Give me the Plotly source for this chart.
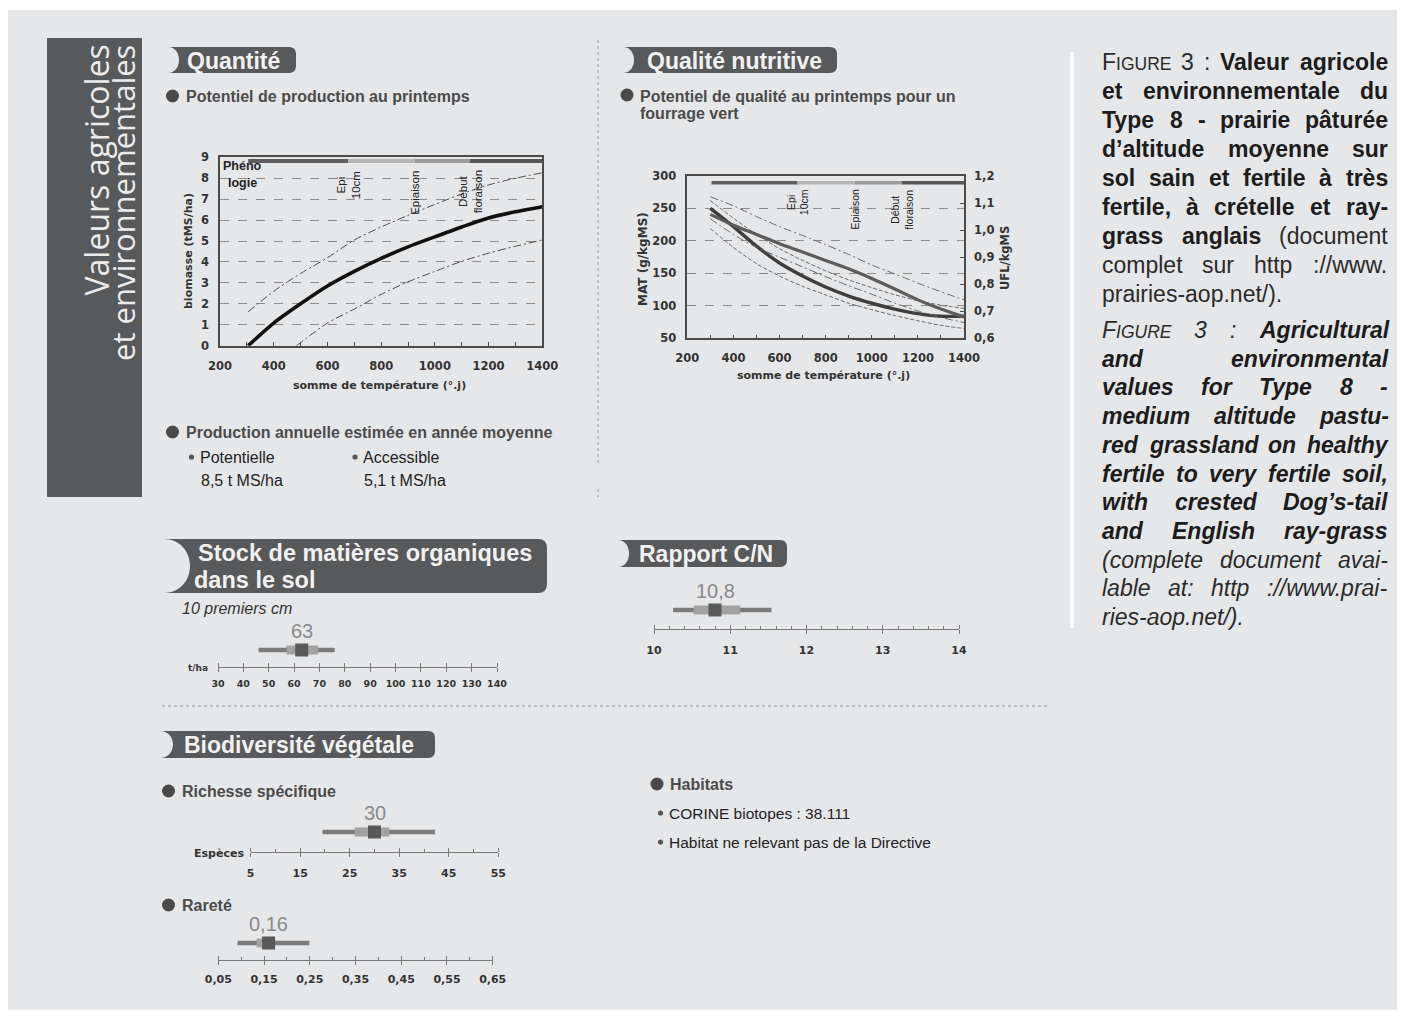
import plotly.graph_objects as go

# page body has an 8px margin: figure drawn at (8, 8) in a 1405x1016 window
OFF = 8
FW, FH = 1405 - OFF, 1016 - OFF
def fx(x): return (x - OFF) / FW
def fy(y): return 1 - (y - OFF) / FH

# ---------------- data ----------------
# Quantite : potentiel de production au printemps
temp_mean = [305, 400, 500, 600, 700, 800, 900, 1000, 1100, 1200, 1300, 1400]
biomass_mean = [0.0, 1.08, 2.0, 2.85, 3.55, 4.17, 4.72, 5.2, 5.67, 6.1, 6.4, 6.64]
temp_high = [305, 400, 500, 600, 700, 800, 900, 1000, 1100, 1200, 1300, 1400]
biomass_high = [1.62, 2.6, 3.45, 4.2, 5.05, 5.67, 6.23, 6.75, 7.25, 7.68, 8.0, 8.26]
temp_low = [485, 600, 700, 800, 900, 1000, 1100, 1200, 1300, 1400]
biomass_low = [0.0, 1.08, 1.75, 2.45, 3.05, 3.55, 4.03, 4.42, 4.75, 5.05]

# Qualite nutritive
temp_quality = [300, 400, 500, 600, 700, 800, 900, 1000, 1100, 1200, 1300, 1400]
mat_mean = [250, 222, 192, 166, 146, 129, 115, 104, 95, 88, 84, 84]
mat_high = [262, 235, 210, 188, 170, 154, 140, 128, 117, 108, 101, 96]
mat_low = [219, 190, 165, 146, 130, 117, 104, 94, 85, 77, 70, 65]
ufl_mean = [1.058, 1.018, 0.984, 0.950, 0.919, 0.888, 0.857, 0.821, 0.782, 0.742, 0.708, 0.679]
ufl_high = [1.123, 1.090, 1.050, 1.013, 0.980, 0.946, 0.910, 0.871, 0.838, 0.804, 0.772, 0.742]
ufl_low = [1.042, 0.984, 0.936, 0.900, 0.864, 0.828, 0.794, 0.763, 0.730, 0.701, 0.677, 0.658]

# Phenology stages (somme de temperature)
pheno_bounds = [305, 678, 926, 1131, 1400]
pheno_stage_x = [678, 926, 1131]
pheno_stage_labels = ["Epi<br>10cm", "Epiaison", "Début<br>floraison"]

# Indicators: [min, q1, value, q3, max]
stock_stats = [46, 57, 63, 69.5, 76]
cn_stats = [10.25, 10.52, 10.8, 11.13, 11.54]
richesse_stats = [19.5, 26, 30, 33, 42.2]
rarete_stats = [0.092, 0.134, 0.16, 0.174, 0.249]
stock_text, cn_text, richesse_text, rarete_text = "63", "10,8", "30", "0,16"

prod_potentielle = "8,5 t MS/ha"
prod_accessible = "5,1 t MS/ha"

# ---------------- styles ----------------
BG = "#e6e7e9"
DARK = "#58595b"
TICKFONT = dict(family="DejaVu Sans", size=11.5, color="#333333", weight="bold")
SANS = "Liberation Sans"
pheno_colors = ["#5e5e5e", "#b5b5b5", "#9b9b9b", "#565656"]

fig = go.Figure()
shapes = []
ann = []

def text(x, y, s, size=15, color="#333", bold=False, italic=False, xanchor="left",
         yanchor="middle", family=SANS, angle=0, align="left", xref="paper", yref="paper"):
    ann.append(dict(x=fx(x) if xref == "paper" else x, y=fy(y) if yref == "paper" else y,
                    xref=xref, yref=yref, text=s, showarrow=False,
                    xanchor=xanchor, yanchor=yanchor, textangle=angle, align=align,
                    font=dict(size=size, color=color, family=family,
                              weight="bold" if bold else "normal",
                              style="italic" if italic else "normal")))

def rect(x0, y0, x1, y1, color, layer="below"):
    shapes.append(dict(type="rect", xref="paper", yref="paper", x0=fx(x0), x1=fx(x1),
                       y0=fy(y1), y1=fy(y0), fillcolor=color, line=dict(width=0), layer=layer))

def circle(cx, cy, r, color="#4a4a4a"):
    shapes.append(dict(type="circle", xref="paper", yref="paper", x0=fx(cx - r), x1=fx(cx + r),
                       y0=fy(cy + r), y1=fy(cy - r), fillcolor=color, line=dict(width=0)))

def hline_dotted(x0, x1, y, color="#9a9a9a"):
    shapes.append(dict(type="line", xref="paper", yref="paper", x0=fx(x0), x1=fx(x1),
                       y0=fy(y), y1=fy(y), line=dict(color=color, width=1, dash="dot")))

def vline_dotted(x, y0, y1, color="#9a9a9a"):
    shapes.append(dict(type="line", xref="paper", yref="paper", x0=fx(x), x1=fx(x),
                       y0=fy(y0), y1=fy(y1), line=dict(color=color, width=1, dash="dot")))

def tab(x0, y0, x1, y1, bulge, r=7):
    k = bulge / 0.75
    P = lambda x, y: f"{fx(x):.6f},{fy(y):.6f}"
    path = (f"M {P(x0, y0)} L {P(x1 - r, y0)} Q {P(x1, y0)} {P(x1, y0 + r)} "
            f"L {P(x1, y1 - r)} Q {P(x1, y1)} {P(x1 - r, y1)} L {P(x0, y1)} "
            f"C {P(x0 + k, y1)} {P(x0 + k, y0)} {P(x0, y0)} Z")
    shapes.append(dict(type="path", xref="paper", yref="paper", path=path,
                       fillcolor=DARK, line=dict(width=0), layer="below"))

# ---------------- background ----------------
rect(8, 10, 1398, 1010, BG)
rect(47, 38, 142, 497, DARK)
text(96, 43, "Valeurs agricoles", size=32, color="#ececec", family="Open Sans",
     xanchor="center", yanchor="top", angle=-90)
text(123, 43, "et environnementales", size=31, color="#ececec", family="Open Sans",
     xanchor="center", yanchor="top", angle=-90)
rect(1070, 52, 1074, 628, "#ffffff")

vline_dotted(598, 40, 466)
vline_dotted(598, 489, 497)
hline_dotted(162, 1047, 706)

# ---------------- tabs ----------------
TABFONT = dict(size=23, color="#f2f2f2", bold=True)
tab(168, 47, 296, 73, 11)
text(185, 61, "Quantité", **TABFONT)
tab(623, 47, 837, 73, 11)
text(645, 61, "Qualité nutritive", **TABFONT)
tab(163, 539, 547, 593, 27, r=9)
text(196, 553, "Stock de matières organiques", size=23.5, color="#f2f2f2", bold=True)
text(192, 580, "dans le sol", size=23.5, color="#f2f2f2", bold=True)
tab(618, 540, 787, 567, 11)
text(637, 554, "Rapport C/N", **TABFONT)
tab(160, 731, 435, 758, 13)
text(182, 745, "Biodiversité végétale", **TABFONT)

# ---------------- sub headings ----------------
SUB = dict(size=16, color="#4b4b4b", bold=True)
circle(172.5, 96, 6.5)
text(184, 96, "Potentiel de production au printemps", **SUB)
circle(627, 95, 6.5)
text(638, 96, "Potentiel de qualité au printemps pour un", **SUB)
text(638, 114, "fourrage vert", **SUB)
circle(172.5, 432, 6.5)
text(184, 432, "Production annuelle estimée en année moyenne", **SUB)
circle(191.5, 457, 2.6, "#555")
text(198, 457, "Potentielle", size=16, color="#222")
text(199, 480, prod_potentielle, size=16, color="#222")
circle(355, 457, 2.6, "#555")
text(361, 457, "Accessible", size=16, color="#222")
text(362, 480, prod_accessible, size=16, color="#222")

text(180, 608, "10 premiers cm", size=16, color="#333", italic=True)

circle(168.5, 791, 6.5)
text(180, 791, "Richesse spécifique", **SUB)
circle(168.5, 905, 6.5)
text(180, 905, "Rareté", **SUB)
circle(657, 784, 6.5)
text(668, 784, "Habitats", **SUB)
circle(660.5, 813, 2.6, "#555")
text(667, 813, "CORINE biotopes : 38.111", size=15.5, color="#222")
circle(660.5, 842, 2.6, "#555")
text(667, 842, "Habitat ne relevant pas de la Directive", size=15.5, color="#222")

# ---------------- chart 1 : Quantité ----------------
def line(x, y, xa, ya, color, width, dash="solid"):
    fig.add_trace(go.Scatter(x=x, y=y, xaxis=xa, yaxis=ya, mode="lines", hoverinfo="skip",
                             line=dict(color=color, width=width, dash=dash, shape="spline",
                                       smoothing=0.8)))

for i in range(len(pheno_bounds) - 1):
    fig.add_trace(go.Scatter(x=pheno_bounds[i:i + 2], y=[8.82, 8.82], xaxis="x", yaxis="y",
                             mode="lines", hoverinfo="skip",
                             line=dict(color=pheno_colors[i], width=4)))
line(temp_high, biomass_high, "x", "y", "#4d4d4d", 1, "8px,3px,2px,3px")
line(temp_low, biomass_low, "x", "y", "#4d4d4d", 1, "8px,3px,2px,3px")
line(temp_mean, biomass_mean, "x", "y", "#111111", 3.6)

for xs, lab in zip(pheno_stage_x, pheno_stage_labels):
    text(xs, 8.45, lab, size=11.5, color="#222", xanchor="center", yanchor="top",
         angle=-90, align="center", xref="x", yref="y")
text(221, 166, "Phéno", size=12.5, color="#222", bold=True)
text(226, 183, "logie", size=12.5, color="#222", bold=True)

AX = dict(showline=True, linecolor="#4a4a4a", linewidth=1.5, mirror=True, zeroline=False,
          tickfont=TICKFONT, showgrid=False, fixedrange=True, automargin=False)
layout_axes = {}
layout_axes["xaxis"] = dict(AX, domain=[fx(220), fx(542.3)], range=[200, 1400], anchor="y",
                            tick0=200, dtick=200, ticks="inside", ticklen=4, tickcolor="#4a4a4a",
                            minor=dict(dtick=100, ticks="inside", ticklen=4, tickcolor="#4a4a4a"),
                            ticklabelstandoff=9)
layout_axes["yaxis"] = dict(AX, domain=[fy(345.7), fy(157.3)], range=[0, 9], anchor="x",
                            dtick=1, showgrid=True, gridcolor="#8c8c8c", gridwidth=0.8,
                            griddash="dash", ticks="", ticklabelstandoff=7)
text(379, 385, "somme de température (°.j)", size=11, color="#333", bold=True,
     family="DejaVu Sans", xanchor="center")
text(188, 251, "biomasse (tMS/ha)", size=11, color="#333", bold=True,
     family="DejaVu Sans", xanchor="center", angle=-90)

# ---------------- chart 2 : Qualité ----------------
for i in range(len(pheno_bounds) - 1):
    fig.add_trace(go.Scatter(x=pheno_bounds[i:i + 2], y=[289.5, 289.5], xaxis="x2", yaxis="y2",
                             mode="lines", hoverinfo="skip",
                             line=dict(color=pheno_colors[i], width=3.5)))
line(temp_quality, mat_high, "x2", "y2", "#6a6a6a", 1, "4px,2px")
line(temp_quality, mat_low, "x2", "y2", "#6a6a6a", 1, "4px,2px")
line(temp_quality, ufl_high, "x2", "y3", "#6a6a6a", 1, "8px,3px,2px,3px")
line(temp_quality, ufl_low, "x2", "y3", "#6a6a6a", 1, "8px,3px,2px,3px")
line(temp_quality, ufl_mean, "x2", "y3", "#5c5c5c", 3.2)
line(temp_quality, mat_mean, "x2", "y2", "#3e3e3e", 3.4)

for xs, lab in zip(pheno_stage_x, pheno_stage_labels):
    text(xs, 282, lab, size=10.5, color="#222", xanchor="center", yanchor="top",
         angle=-90, align="center", xref="x2", yref="y2")

layout_axes["xaxis2"] = dict(AX, domain=[fx(687.3), fx(964)], range=[200, 1400], anchor="y2",
                             tick0=200, dtick=200, ticks="inside", ticklen=4, tickcolor="#4a4a4a",
                             minor=dict(dtick=100, ticks="inside", ticklen=4, tickcolor="#4a4a4a"),
                             ticklabelstandoff=8)
layout_axes["yaxis2"] = dict(AX, domain=[fy(338.3), fy(176)], range=[50, 300], anchor="x2",
                             dtick=50, showgrid=True, gridcolor="#8c8c8c", gridwidth=0.8,
                             griddash="dash", ticks="", ticklabelstandoff=7, mirror=False)
layout_axes["yaxis3"] = dict(AX, range=[0.6, 1.2], overlaying="y2", side="right", anchor="x2",
                             dtick=0.1, tickformat=".1f", ticks="inside", ticklen=4,
                             tickcolor="#4a4a4a", ticklabelstandoff=6, mirror=False)
text(824, 375, "somme de température (°.j)", size=11, color="#333", bold=True,
     family="DejaVu Sans", xanchor="center")
text(643, 259, "MAT (g/kgMS)", size=12, color="#333", bold=True,
     family="DejaVu Sans", xanchor="center", angle=-90)
text(1005, 258, "UFL/kgMS", size=11.5, color="#333", bold=True,
     family="DejaVu Sans", xanchor="center", angle=-90)

# ---------------- indicator strips ----------------
def strip(n, stats, label, x0, x1, axis_px, glyph_px, rng, tick0, dtick, minor_dtick,
          fsize, standoff, fmt=None):
    xa, xt, ya = f"x{n}", f"x{n + 1}", f"y{n}"
    top = 2 * glyph_px - axis_px
    fig.add_trace(go.Scatter(x=[stats[0], stats[4]], y=[0.5, 0.5], xaxis=xa, yaxis=ya,
                             mode="lines", hoverinfo="skip",
                             line=dict(color="#7b7b7b", width=4.5)))
    fig.add_trace(go.Scatter(x=[stats[1], stats[3]], y=[0.5, 0.5], xaxis=xa, yaxis=ya,
                             mode="lines", hoverinfo="skip",
                             line=dict(color="#a2a2a2", width=9)))
    fig.add_trace(go.Scatter(x=[stats[2]], y=[0.5], xaxis=xt, yaxis=ya, mode="markers",
                             hoverinfo="skip",
                             marker=dict(symbol="square", size=13, color=DARK,
                                         line=dict(width=0))))
    base = dict(range=rng, showgrid=False, zeroline=False, showline=True, linecolor="#7a7a7a",
                linewidth=1, tick0=tick0, dtick=dtick, ticks="outside", tickcolor="#7a7a7a",
                fixedrange=True, automargin=False)
    layout_axes[f"xaxis{n}"] = dict(base, domain=[fx(x0), fx(x1)], anchor=ya, ticklen=4,
                                    tickfont=dict(family="DejaVu Sans", size=fsize,
                                                  color="#333", weight="bold"),
                                    ticklabelstandoff=standoff,
                                    **({"tickformat": fmt} if fmt else {}))
    top_ax = dict(base, overlaying=xa, side="top", anchor="free", position=fy(axis_px),
                  ticklen=4, showticklabels=False)
    if minor_dtick:
        top_ax["minor"] = dict(dtick=minor_dtick, ticks="outside", ticklen=3,
                               tickcolor="#7a7a7a")
    layout_axes[f"xaxis{n + 1}"] = top_ax
    layout_axes[f"yaxis{n}"] = dict(domain=[fy(axis_px), fy(top)], range=[0, 1], anchor=xa,
                                    visible=False, fixedrange=True, automargin=False)
    text(stats[2], glyph_px - 19, label, size=20, color="#8a8a8a", xanchor="center", xref=xa)

strip(4, stock_stats, stock_text, 218, 497, 667, 650, [30, 140], 30, 10, None, 9.5, 4)
strip(6, cn_stats, cn_text, 654, 959, 629, 610, [10, 14], 10, 1, 0.2, 11, 7)
strip(8, richesse_stats, richesse_text, 250.7, 498.3, 852, 832, [5, 55], 5, 10, 5, 11, 7)
strip(10, rarete_stats, rarete_text, 218.3, 492.7, 960, 943, [0.05, 0.65], 0.05, 0.1, 0.05,
      11, 5, ".2f")
text(210, 668, "t/ha", size=9, color="#333", bold=True, family="DejaVu Sans", xanchor="right")
text(246, 853, "Espèces", size=11, color="#333", bold=True, family="DejaVu Sans",
     xanchor="right")

# ---------------- caption (justified) ----------------
LOW = "abcdefghijklmnopqrstuvwxyz"
UP = "ABCDEFGHIJKLMNOPQRSTUVWXYZ"
REG_L = [556,556,500,556,556,278,556,556,222,222,500,222,833,556,556,556,556,333,500,278,556,500,722,500,500,500]
BLD_L = [556,611,556,611,556,333,611,611,278,278,556,278,889,611,611,611,611,389,556,333,611,556,778,556,556,500]
REG_U = [667,667,722,722,667,611,778,722,278,500,667,556,833,722,778,667,778,722,667,611,722,667,944,667,667,611]
BLD_U = [722,722,722,722,667,611,778,722,278,556,722,611,833,722,778,667,778,722,667,611,722,667,944,667,667,611]
PUN_R = {" ": 278, ".": 278, ",": 278, ":": 278, "-": 333, "/": 278, "(": 333, ")": 333, "’": 222}
PUN_B = {" ": 278, ".": 278, ",": 278, ":": 333, "-": 333, "/": 278, "(": 333, ")": 333, "’": 278}
ACC = {"à": "a", "â": "a", "é": "e", "è": "e", "ê": "e"}

def char_w(ch, bold):
    ch = ACC.get(ch, ch)
    if ch in LOW:
        return (BLD_L if bold else REG_L)[LOW.index(ch)]
    if ch in UP:
        return (BLD_U if bold else REG_U)[UP.index(ch)]
    if ch.isdigit():
        return 556
    return (PUN_B if bold else PUN_R).get(ch, 556)

CAP_SIZE = 23
SC_RATIO = 0.76

def token_info(word, style):
    bold = "b" in style
    if style.startswith("sc") and word.isalpha():
        w = char_w(word[0], False) * CAP_SIZE + sum(char_w(c, False) for c in word[1:]) * CAP_SIZE * SC_RATIO
        html = word[0] + f'<span style="font-size:{CAP_SIZE * SC_RATIO:.1f}px">{word[1:]}</span>'
        return html, w / 1000
    return word, sum(char_w(c, bold) for c in word) * CAP_SIZE / 1000

cap_fr = [
    [("FIGURE 3 :", "sc"), ("Valeur agricole", "b")],
    [("et environnementale du", "b")],
    [("Type 8 - prairie pâturée", "b")],
    [("d’altitude moyenne sur", "b")],
    [("sol sain et fertile à très", "b")],
    [("fertile, à crételle et ray-", "b")],
    [("grass anglais", "b"), ("(document", "r")],
    [("complet sur http ://www.", "r")],
    [("prairies-aop.net/).", "r")],
]
cap_en = [
    [("FIGURE 3 :", "sci"), ("Agricultural", "bi")],
    [("and environmental", "bi")],
    [("values for Type 8 -", "bi")],
    [("medium altitude pastu-", "bi")],
    [("red grassland on healthy", "bi")],
    [("fertile to very fertile soil,", "bi")],
    [("with crested Dog’s-tail", "bi")],
    [("and English ray-grass", "bi")],
    [("(complete document avai-", "i")],
    [("lable at: http ://www.prai-", "i")],
    [("ries-aop.net/).", "i")],
]
CX0, CX1 = 1101, 1387

def caption(lines, y0, dy):
    for li, runs in enumerate(lines):
        toks = []
        for s, st in runs:
            for wd in s.split(" "):
                h, w = token_info(wd, st)
                toks.append((h, w, st))
        last = li == len(lines) - 1
        total = sum(t[1] for t in toks)
        gap = 0.278 * CAP_SIZE if (last or len(toks) < 2) else (CX1 - CX0 - total) / (len(toks) - 1)
        x = CX0
        y = y0 + li * dy
        for h, w, st in toks:
            text(x - 1, y, h, size=CAP_SIZE, color="#1c1c1c" if "b" in st else "#2a2a2a",
                 bold="b" in st, italic="i" in st)
            x += w + gap

caption(cap_fr, 62, 29)
caption(cap_en, 330, 28.7)

fig.update_layout(
    width=FW, height=FH, margin=dict(l=0, r=0, t=0, b=0, autoexpand=False), autosize=False,
    paper_bgcolor="#ffffff", plot_bgcolor="rgba(0,0,0,0)", showlegend=False,
    separators=", ", shapes=shapes, annotations=ann, font=dict(family=SANS),
    **layout_axes,
)
fig.write_html("out.html")
